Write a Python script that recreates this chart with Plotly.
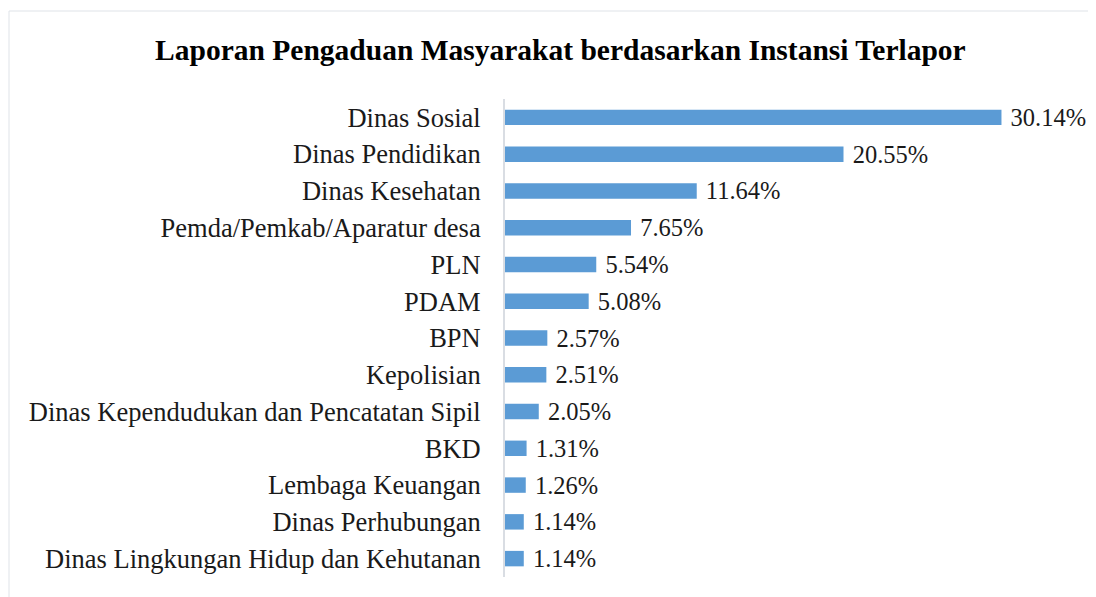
import plotly.graph_objects as go

categories = [
    "Dinas Sosial",
    "Dinas Pendidikan",
    "Dinas Kesehatan",
    "Pemda/Pemkab/Aparatur desa",
    "PLN",
    "PDAM",
    "BPN",
    "Kepolisian",
    "Dinas Kependudukan dan Pencatatan Sipil",
    "BKD",
    "Lembaga Keuangan",
    "Dinas Perhubungan",
    "Dinas Lingkungan Hidup dan Kehutanan",
]
percentages = [30.14, 20.55, 11.64, 7.65, 5.54, 5.08, 2.57, 2.51, 2.05, 1.31, 1.26, 1.14, 1.14]

FONT = "Liberation Serif, Times New Roman, serif"

fig = go.Figure()
fig.add_trace(go.Bar(
    x=percentages, y=categories, orientation="h",
    marker=dict(color="#5b9bd5", line=dict(width=0)),
    width=0.42,
    text=[f"\u00a0{v:.2f}%" for v in percentages],
    textposition="outside",
    constraintext="none",
    textfont=dict(family=FONT, size=24.5, color="#1a1a1a"),
    cliponaxis=False,
))

fig.update_layout(
    width=1096, height=597,
    paper_bgcolor="white", plot_bgcolor="white",
    margin=dict(l=497, r=6, t=91, b=28),
    title=dict(
        text="<b>Laporan Pengaduan Masyarakat berdasarkan Instansi Terlapor</b>",
        x=0.504, xanchor="center", y=0.93, yanchor="middle",
        font=dict(family=FONT, size=29.5, color="#000000"),
    ),
    xaxis=dict(range=[0, 36], visible=False, fixedrange=True),
    yaxis=dict(
        autorange="reversed",
        showline=True, linecolor="#d9dde3", linewidth=2,
        showgrid=False, ticks="", ticklabelstandoff=17,
        tickfont=dict(family=FONT, size=26.5, color="#1a1a1a"),
    ),
    showlegend=False,
    shapes=[dict(
        type="rect", xref="paper", yref="paper",
        x0=(1 - 497) / 593, x1=(1100 - 497) / 593,
        y0=1 + (91 - 3) / 478, y1=-0.1,
        line=dict(color="#dfe3e8", width=1),
    )],
)

fig.write_html("out.html")
